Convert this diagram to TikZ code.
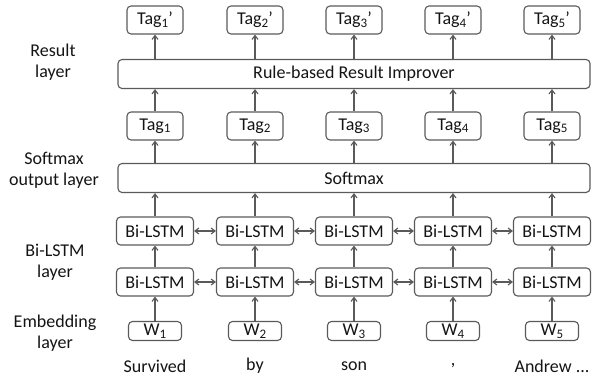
\documentclass[tikz,border=0pt]{standalone}
\usepackage{fontspec}
\setmainfont{Carlito}
\usetikzlibrary{arrows.meta}
\definecolor{edgecol}{RGB}{90,90,90}
\definecolor{txtcol}{RGB}{20,20,20}
\newcommand{\lastword}{Andrew ...}
\newcommand{\lowsub}[1]{\raisebox{-0.3ex}{\fontsize{13}{13}\selectfont #1}}

\begin{document}
\begin{tikzpicture}[x=1pt,y=1pt,>={Straight Barb[length=4pt,width=6pt]},
    font=\fontsize{18}{21}\selectfont,text=txtcol,
    cell/.style={draw=edgecol,line width=1.1pt,rounded corners=4pt,inner sep=0pt},
    tagbox/.style={cell,minimum width=56pt,minimum height=28pt},
    lstmbox/.style={cell,minimum width=77pt,minimum height=28pt},
    wbox/.style={cell,minimum width=53pt,minimum height=19pt},
    widebox/.style={cell,minimum width=472pt,minimum height=29pt},
    layerlbl/.style={align=center,font=\fontsize{18}{21}\selectfont},
    link/.style={->,draw=edgecol,line width=1.1pt}]
  \useasboundingbox (0,0) rectangle (595,376);
  % ---------------- layer names ----------------
  \node[layerlbl] (lres) at (53,314) {Result\\layer};
  \node[layerlbl] (lsoft) at (54,206) {Softmax\\output layer};
  \node[layerlbl] (llstm) at (55,114) {Bi-LSTM\\layer};
  \node[layerlbl] (lemb) at (55,43) {Embedding\\layer};
  % ---------------- wide boxes ----------------
  \node[widebox] (rule) at (354,302) {Rule-based Result Improver};
  \node[widebox] (soft) at (354,198) {Softmax};
  % ---------------- columns ----------------
  \foreach \i/\x/\w in {1/155/Survived,2/255/by,3/354/son,4/453/{,},5/552/\lastword} {
    \node (word\i) at (\x,10) {\w};
    \node[wbox] (w\i) at (\x,45) {W\lowsub{\i}};
    \node[lstmbox] (low\i) at (\x,94) {Bi-LSTM};
    \node[lstmbox] (up\i) at (\x,145) {Bi-LSTM};
    \node[tagbox] (tag\i) at (\x,250) {Tag\lowsub{\i}};
    \node[tagbox] (tagp\i) at (\x,356) {Tag\lowsub{\i}\symbol{39}};
    \draw[link] (w\i) -- (low\i);
    \draw[link] (low\i) -- (up\i);
    \draw[link] (up\i) -- (up\i |- soft.south);
    \draw[link] (tag\i |- soft.north) -- (tag\i);
    \draw[link] (tag\i) -- (tag\i |- rule.south);
    \draw[link] (tagp\i |- rule.north) -- (tagp\i);
  }
  % forward/backward links between neighbours
  \foreach \i/\j in {1/2,2/3,3/4,4/5} {
    \draw[link,<->] (low\i) -- (low\j);
    \draw[link,<->] (up\i) -- (up\j);
  }
\end{tikzpicture}
\end{document}
